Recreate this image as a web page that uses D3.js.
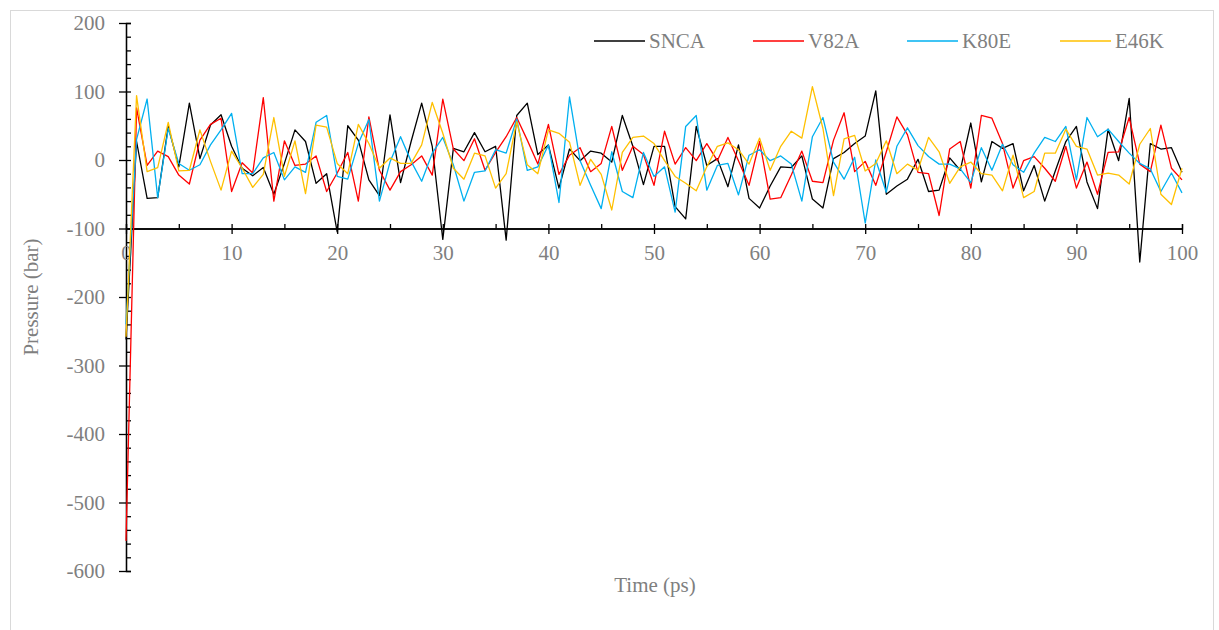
<!DOCTYPE html>
<html>
<head>
<meta charset="utf-8">
<script src="https://cdn.jsdelivr.net/npm/d3@7"></script>
<style>
  body { margin: 0; background: #fff; }
  text { font-family: 'Liberation Serif', 'Times New Roman', serif; fill: #7f7f7f; }
</style>
</head>
<body>
<script>

// time steps (ps)
var time = d3.range(0, 101)

var snca = [-262, 27, -56, -55, 49, -10, 83, 2, 51, 66, 20, -12, -23, -11, -50, -5, 44, 27, -34, -20,
    -105, 50, 29, -29, -52, 66, -33, 27, 83, 20, -116, 17, 12, 40, 12, 20, -117, 65, 83, 8,
    22, -41, 16, -1, 13, 10, -3, 65, 20, -36, 20, 20, -68, -86, 49, -8, 2, -39, 22, -56,
    -70, -38, -10, -11, 6, -57, -70, 2, 11, 24, 35, 101, -50, -38, -28, 1, -46, -44, 3, -15,
    54, -32, 27, 17, 24, -45, -8, -60, -16, 27, 49, -32, -71, 45, -1, 90, -149, 24, 16, 18, -18]

var v82a = [-556, 76, -8, 13, 5, -22, -35, 29, 52, 61, -46, -4, -19, 91, -60, 28, -8, -6, 6, -46,
    -19, 11, -60, 63, -15, -44, -17, -7, 6, -22, 89, 16, -1, 31, -15, 11, 34, 62, 29, -6,
    52, -21, 7, 18, -17, -5, 49, -15, 20, 8, -37, 42, -6, 18, -1, 24, -1, 33, -1, -37,
    27, -57, -55, -22, 13, -31, -33, 29, 69, -17, -2, -37, 12, 63, 37, -18, -20, -81, 16, 27,
    -41, 65, 61, 24, -41, -1, 5, -12, -31, 20, -41, -3, -50, 11, 12, 62, -6, -17, 51, -12, -29]

var k80e = [-240, 30, 89, -55, 46, -5, -15, -7, 22, 44, 68, -20, -20, 3, 11, -29, -10, -18, 55, 65,
    -24, -28, 24, 59, -60, -3, 34, -2, -31, 10, 33, -7, -60, -18, -16, 15, 10, 60, -15, -10,
    22, -62, 92, -1, -37, -71, 12, -46, -55, 11, -24, -10, -76, 49, 65, -44, -8, -5, -51, 7,
    15, -1, 6, -6, -60, 34, 62, -3, -28, 4, -92, 0, -47, 20, 47, 21, 5, -6, -6, -13,
    -33, 18, -15, 23, -7, -18, 10, 33, 27, 49, -29, 62, 34, 45, 27, 10, -5, -13, -46, -19, -48]

var e46k = [-258, 94, -17, -11, 55, -16, -15, 44, -2, -44, 13, -12, -40, -21, 62, -24, 28, -49, 51, 48,
    -5, -20, 52, 24, -12, 3, -5, -5, 22, 84, 39, -12, -28, 10, 6, -41, -20, 56, -7, -20,
    44, 39, 26, -37, 1, -21, -73, 11, 33, 35, 24, -1, -24, -34, -45, -10, 20, 25, 15, -6,
    32, -15, 20, 42, 32, 107, 46, -52, 31, 36, -16, -5, 28, -20, -6, -15, 33, 12, -34, -10,
    -3, -20, -22, -45, 7, -55, -46, 10, 10, 45, 20, 16, -22, -19, -22, -35, 23, 46, -50, -65, -12]

var seriesNames = ['SNCA', 'V82A', 'K80E', 'E46K']
var seriesColors = ['#000000', '#ff0000', '#00b0f0', '#ffc000']
var seriesValues = [snca, v82a, k80e, e46k]

var xMajorTicks = [0, 10, 20, 30, 40, 50, 60, 70, 80, 90, 100]
var yMajorTicks = [200, 100, 0, -100, -200, -300, -400, -500, -600]

var chartWidth = 1219
var chartHeight = 630
var plotLeft = 126, plotRight = 1182, plotTop = 23, plotBottom = 571
var fontSize = '21px'

var svg = d3.select('body')
            .append('svg')
                .attr('width', chartWidth)
                .attr('height', chartHeight)

// chart border
svg.append('rect')
        .attr('x', 10.5)
        .attr('y', 10.5)
        .attr('width', 1203)
        .attr('height', 640)
        .attr('fill', 'none')
        .attr('stroke', '#d9d9d9')

var xscale = d3.scaleLinear().domain([0, 100]).range([plotLeft, plotRight])
var yscale = d3.scaleLinear().domain([-600, 200]).range([plotBottom, plotTop])

// plain hyphen for negatives, like the original
var plainFormat = d => String(d)

// y axis: major ticks cross, minor ticks inside
var yMinor = d3.range(-600, 201, 20).filter(v => v % 100 != 0)
svg.append('g')
        .attr('transform', 'translate(' + plotLeft + ',0)')
        .call(d3.axisRight(yscale).tickValues(yMinor).tickSize(5).tickFormat(''))
svg.append('g')
        .classed('y-major', true)
        .attr('transform', 'translate(' + plotLeft + ',0)')
        .call(d3.axisLeft(yscale).tickValues(yMajorTicks).tickFormat(plainFormat)
                .tickSizeInner(6).tickSizeOuter(0).tickPadding(15))

svg.selectAll('.y-major .tick line').attr('x2', -7).attr('x1', 5)

// x axis sits at -100
var xAxisY = yscale(-100)
var xMinor = d3.range(5, 100, 10)
svg.append('g')
        .attr('transform', 'translate(0,' + xAxisY + ')')
        .call(d3.axisTop(xscale).tickValues(xMinor).tickSize(4.5).tickFormat(''))
svg.append('g')
        .classed('x-major', true)
        .attr('transform', 'translate(0,' + xAxisY + ')')
        .call(d3.axisBottom(xscale).tickValues(xMajorTicks).tickFormat(plainFormat)
                .tickSizeInner(5).tickSizeOuter(0).tickPadding(11.5))

svg.selectAll('.x-major .tick line').attr('y1', -4.5).attr('y2', 5.5)

svg.selectAll('.domain').attr('stroke', '#000').attr('stroke-width', 1.3)
svg.selectAll('.tick line').attr('stroke', '#000').attr('stroke-width', 1.3)
svg.selectAll('.tick text')
        .style('font-family', "'Liberation Serif', serif")
        .style('font-size', fontSize)
        .attr('fill', '#7f7f7f')

// lines
var line = d3.line()
        .x((d, i) => xscale(time[i]))
        .y(d => yscale(d))

seriesValues.forEach(function(vals, k) {
    svg.append('path')
            .datum(vals)
            .attr('d', line)
            .attr('fill', 'none')
            .attr('stroke', seriesColors[k])
            .attr('stroke-width', 1.3)
            .attr('stroke-linejoin', 'round')
})

// axis titles
svg.append('text')
        .text('Time (ps)')
        .attr('x', 655)
        .attr('y', 592)
        .attr('text-anchor', 'middle')
        .style('font-size', fontSize)

svg.append('text')
        .text('Pressure (bar)')
        .attr('transform', 'translate(38,' + ((plotTop + plotBottom) / 2) + ') rotate(-90)')
        .attr('text-anchor', 'middle')
        .style('font-size', fontSize)

// legend
var legendX = [594, 753, 907, 1060]
var legend = svg.selectAll('.legend-item')
        .data(seriesNames)
        .enter()
            .append('g')
                .attr('transform', (d, i) => 'translate(' + legendX[i] + ',41)')

legend.append('line')
        .attr('x1', 0)
        .attr('x2', 51)
        .attr('stroke', (d, i) => seriesColors[i])
        .attr('stroke-width', 1.3)

legend.append('text')
        .text(d => d)
        .attr('x', 55)
        .attr('y', 7)
        .style('font-size', fontSize)

</script>
</body>
</html>
